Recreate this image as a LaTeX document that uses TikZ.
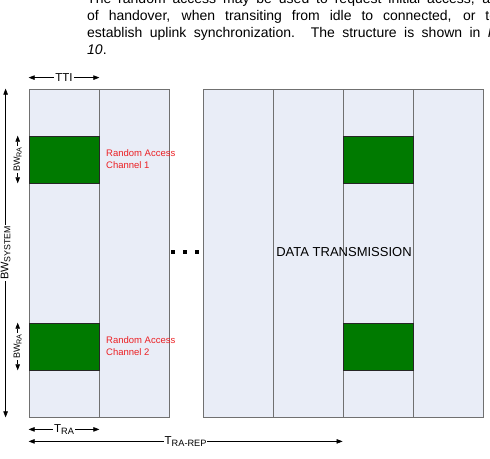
\documentclass[tikz,border=0pt]{standalone}
\usepackage{fontspec}
\setmainfont{Liberation Sans}
\usepackage{tikz}
\usetikzlibrary{arrows.meta, positioning}
\definecolor{slotfill}{RGB}{233,237,247}
\definecolor{slotline}{RGB}{112,112,112}
\definecolor{rachgreen}{RGB}{0,122,0}
\definecolor{rachred}{RGB}{236,32,36}
\newcommand{\dimsub}[1]{\raisebox{-0.35ex}{\scalebox{0.8}{#1}}}
\tikzset{
  slotbox/.style={
    rectangle, inner sep=0pt,
    minimum width=70pt, minimum height=328pt,
    draw=slotline, fill=slotfill, line width=0.8pt
  },
  rachbox/.style={
    rectangle, inner sep=0pt,
    minimum width=70pt, minimum height=47pt,
    draw=black!85, fill=rachgreen, line width=0.6pt
  },
  ralabel/.style={
    align=left, inner sep=0pt, text=rachred,
    font=\fontsize{9.5}{12}\selectfont
  },
  dimarrow/.style={
    {Triangle[length=6pt,width=4.5pt]}-{Triangle[length=6pt,width=4.5pt]},
    line width=0.6pt
  },
  dimlabel/.style={
    fill=white, inner sep=1pt, font=\fontsize{#1}{#1}\selectfont
  },
  dimlabel/.default=11.5,
  dotsq/.style={rectangle, fill=black, inner sep=0pt, minimum size=3.5pt},
  bodytext/.style={
    text width=410pt, align=justify, inner sep=0pt,
    font=\fontsize{14}{17}\selectfont
  },
}

\begin{document}
\begin{tikzpicture}[x=1pt, y=-1pt]
  \useasboundingbox (0,0) rectangle (490,458);
  \clip (0,0) rectangle (490,458);

  % text above the figure
  \node[bodytext, anchor=north west] (intro) at (87,-7.2)
    {The random access may be used to request initial access, as\linebreak
     of handover, when transiting from idle to connected, or to\linebreak
     establish uplink synchronization. The structure is shown in \textit{F}\linebreak
     \textit{10}.};

  % subframes
  \node[slotbox] (slot1) at (64,253)  {};
  \node[slotbox] (slot2) at (134,253) {};
  \node[slotbox] (slot3) at (238,253) {};
  \node[slotbox] (slot4) at (308,253) {};
  \node[slotbox] (slot5) at (378,253) {};
  \node[slotbox] (slot6) at (448,253) {};

  % random access channels
  \node[rachbox] (ra1) at (64,159.5)  {};
  \node[rachbox] (ra2) at (64,346.5)  {};
  \node[rachbox] (ra3) at (378,159.5) {};
  \node[rachbox] (ra4) at (378,346.5) {};

  \node[ralabel, anchor=west] (ra1txt) at (106,159) {Random Access\\Channel 1};
  \node[ralabel, anchor=west] (ra2txt) at (106,346) {Random Access\\Channel 2};

  \node[font=\fontsize{13}{14}\selectfont] (data) at (344,252) {DATA TRANSMISSION};

  \node[dotsq] (dot1) at (173,252) {};
  \node[dotsq] (dot2) at (185,252) {};
  \node[dotsq] (dot3) at (197,252) {};

  % dimensions
  \draw[dimarrow] ([yshift=11pt]slot1.north west) -- ([yshift=11pt]slot1.north east)
    node[midway, dimlabel] (tti) {TTI};
  \draw[dimarrow] ([xshift=-23pt]slot1.north west) -- ([xshift=-23pt]slot1.south west)
    node[midway, dimlabel=11, rotate=90] (bwsys) {BW\dimsub{SYSTEM}};
  \draw[dimarrow] ([xshift=-11pt]ra1.north west) -- ([xshift=-11pt]ra1.south west)
    node[midway, dimlabel=9, rotate=90] (bwra1) {BW\dimsub{RA}};
  \draw[dimarrow] ([xshift=-11pt]ra2.north west) -- ([xshift=-11pt]ra2.south west)
    node[midway, dimlabel=9, rotate=90] (bwra2) {BW\dimsub{RA}};
  \draw[dimarrow] ([yshift=-12pt]slot1.south west) -- ([yshift=-12pt]slot1.south east)
    node[midway, dimlabel] (tra) {T\dimsub{RA}};
  \draw[dimarrow] ([yshift=-24pt]slot1.south west) -- ([yshift=-24pt]slot5.south west)
    node[midway, dimlabel] (trarep) {T\dimsub{RA-REP}};
\end{tikzpicture}
\end{document}
